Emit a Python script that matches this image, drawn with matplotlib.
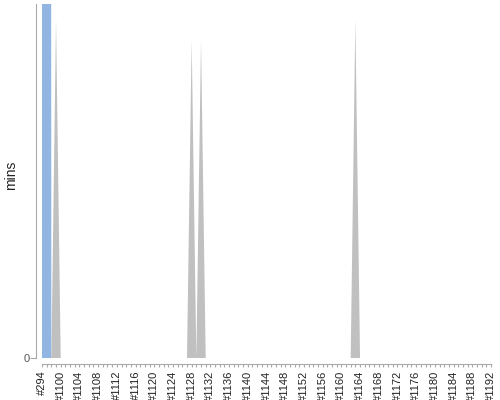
import numpy as np
import matplotlib
matplotlib.use("Agg")
import matplotlib.pyplot as plt

plt.rcParams['font.family'] = ['Liberation Sans', 'DejaVu Sans']

# build numbers on the category axis: one old build, then #1097..#1192
builds = [294] + list(range(1097, 1193))
build_labels = ['#%d' % b for b in builds]

# build duration in minutes, per result (stacked)
success_mins = [
    31.0, 27.0, 0, 0, 0, 0, 0, 0, 0, 0, 0, 0, 0, 0, 0, 0,
    0, 0, 0, 0, 0, 0, 0, 0, 0, 0, 0, 0, 0, 0, 0, 0,
    0, 0, 0, 0, 0, 0, 0, 0, 0, 0, 0, 0, 0, 0, 0, 0,
    0, 0, 0, 0, 0, 0, 0, 0, 0, 0, 0, 0, 0, 0, 0, 0,
    0, 0, 0, 0, 0, 0, 0, 0, 0, 0, 0, 0, 0, 0, 0, 0,
    0, 0, 0, 0, 0, 0, 0, 0, 0, 0, 0, 0, 0, 0, 0, 0,
    0,
]
aborted_mins = [
    0, 0, 0, 0.955, 0, 0, 0, 0, 0, 0, 0, 0, 0, 0, 0, 0,
    0, 0, 0, 0, 0, 0, 0, 0, 0, 0, 0, 0, 0, 0, 0, 0,
    0.898, 0, 0.898, 0, 0, 0, 0, 0, 0, 0, 0, 0, 0, 0, 0, 0,
    0, 0, 0, 0, 0, 0, 0, 0, 0, 0, 0, 0, 0, 0, 0, 0,
    0, 0, 0, 0.955, 0, 0, 0, 0, 0, 0, 0, 0, 0, 0, 0, 0,
    0, 0, 0, 0, 0, 0, 0, 0, 0, 0, 0, 0, 0, 0, 0, 0,
    0,
]
y_top = 1.0  # range cut off above the outlier
label_every = 4

fig = plt.figure(figsize=(5, 4), dpi=100)
ax = fig.add_axes([42 / 500, 1 - 358 / 400, 449 / 500, 354 / 400])

x = np.arange(len(builds))
ax.stackplot(x, success_mins, aborted_mins,
             colors=['#92b5e2', '#c0c0c0'], linewidth=0)

ax.set_xlim(0, len(builds) - 1)
ax.set_ylim(0, y_top)

ax.set_xticks(x)
ax.set_xticklabels([lab if i % label_every == 0 else '' for i, lab in enumerate(build_labels)])
ax.set_yticks([0])
ax.set_yticklabels(['0'])
ax.tick_params(axis='x', length=2, width=0.8, color='#aaaaaa', pad=3,
               labelrotation=90, labelsize=8, labelcolor='#222222')
ax.tick_params(axis='y', length=4, width=0.8, color='#aaaaaa', pad=1,
               labelsize=8, labelcolor='#555555')

ax.set_ylabel('mins', fontsize=10, color='#222222')
ax.yaxis.set_label_coords(-0.053, 0.515)

for side in ['top', 'right']:
    ax.spines[side].set_visible(False)
for side in ['left', 'bottom']:
    ax.spines[side].set_position(('outward', 4))
    ax.spines[side].set_color('#aaaaaa')
    ax.spines[side].set_linewidth(0.8)

fig.savefig('out.png', dpi=100)
